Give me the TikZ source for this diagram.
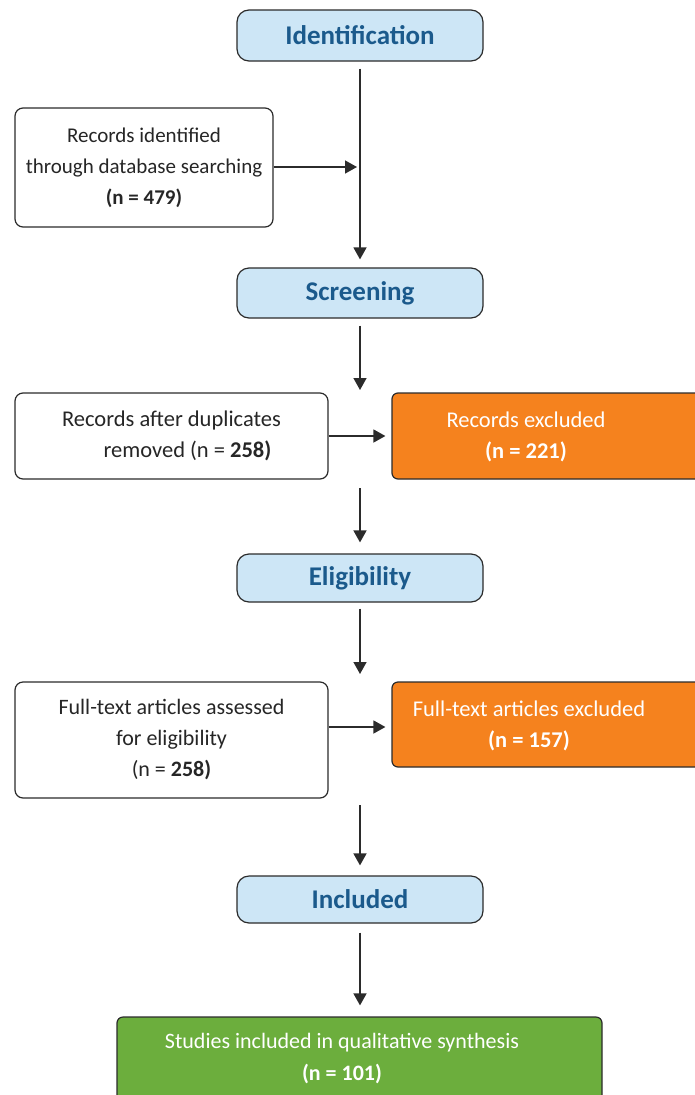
\documentclass[tikz,border=0pt]{standalone}
\usepackage{fontspec}
\setmainfont{Carlito}
\usetikzlibrary{arrows.meta,calc}
\definecolor{hdrfill}{HTML}{CDE6F6}
\definecolor{hdrtext}{HTML}{1B5A8C}
\definecolor{edge}{HTML}{2B2B2B}
\definecolor{orng}{HTML}{F5821E}
\definecolor{grn}{HTML}{6CAE3D}
\tikzset{
  header/.style={draw=edge, line width=1.2pt, fill=hdrfill, rounded corners=12pt,
    minimum width=246pt, text=hdrtext, font=\fontsize{27}{30}\selectfont\bfseries, inner sep=0pt},
  whitebox/.style={draw=edge, line width=1.2pt, fill=white, rounded corners=8pt,
    align=center, font=\fontsize{22.5}{31}\selectfont, text=black!85, inner sep=0pt},
  colbox/.style={draw=edge, line width=1.2pt, rounded corners=6pt, inner sep=0pt},
  coltext/.style={align=center, font=\fontsize{22.5}{31}\selectfont, text=white, inner sep=0pt},
  arr/.style={draw=edge, line width=1.5pt, -{Triangle[width=13pt,length=12pt]}},
}
\begin{document}
\begin{tikzpicture}[x=1pt,y=-1pt]
\useasboundingbox (0,0) rectangle (694,1095);
% headers
\node[header, minimum height=51pt] (ident) at (360,35.5) {Identification};
\node[header, minimum height=50pt] (screen) at (360,293) {Screening};
\node[header, minimum height=48pt] (elig) at (360,578) {Eligibility};
\node[header, minimum height=47pt] (incl) at (360,899.5) {Included};
% white boxes
\node[whitebox, minimum width=258pt, minimum height=119pt, font=\fontsize{21}{31}\selectfont] (rid) at (144,167.5)
  {Records identified\\through database searching\\\textbf{(n = 479)}};
\node[whitebox, minimum width=313pt, minimum height=86pt] (rad) at (171.5,436)
  {Records after duplicates\\\hspace*{32pt}removed (n = \textbf{258)}};
\node[whitebox, minimum width=313pt, minimum height=116pt, font=\fontsize{22}{31}\selectfont] (fta) at (171.5,740)
  {Full-text articles assessed\\for eligibility\\(n = \textbf{258)}};
% coloured boxes
\node[colbox, fill=orng, minimum width=318pt, minimum height=86pt] (rex) at (551,436) {};
\node[coltext] (rext) at (526,437) {Records excluded\\\textbf{(n = 221)}};
\node[colbox, fill=orng, minimum width=318pt, minimum height=85pt] (fte) at (551,724.5) {};
\node[coltext] (ftet) at (529,726) {Full-text articles excluded\\\textbf{(n = 157)}};
\node[colbox, fill=grn, minimum width=485pt, minimum height=93pt] (stud) at (359.5,1063.5) {};
\node[coltext, font=\fontsize{22}{32}\selectfont] (studt) at (342,1059)
  {Studies included in qualitative synthesis\\\textbf{(n = 101)}};
% junction coordinates
\coordinate (j1) at (357,167);
\coordinate (a1) at (360,390);
\coordinate (a2) at (360,488);
\coordinate (a3) at (360,674);
\coordinate (a4) at (360,805);
% connectors
\draw[arr, shorten <=7pt, shorten >=8pt] (ident.south) -- (screen.north);
\draw[arr] (rid.east |- j1) -- (j1);
\draw[arr, shorten <=7pt] (screen.south) -- (a1);
\draw[arr, shorten >=6pt] (rad.east) -- (rex.west);
\draw[arr, shorten >=11pt] (a2) -- (elig.north);
\draw[arr, shorten <=6pt] (elig.south) -- (a3);
\draw[arr, shorten >=6pt] (fta.east |- 0,727) -- (fte.west |- 0,727);
\draw[arr, shorten >=10pt] (a4) -- (incl.north);
\draw[arr, shorten <=9pt, shorten >=11pt] (incl.south) -- (stud.north -| incl.south);
\end{tikzpicture}
\end{document}
